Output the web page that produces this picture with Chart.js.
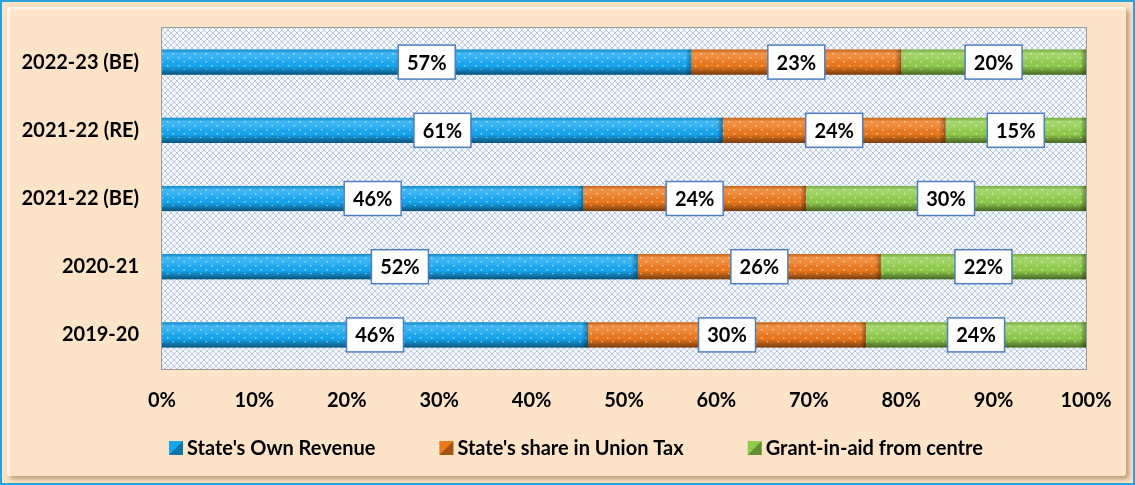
<!DOCTYPE html>
<html><head><meta charset="utf-8">
<script src="https://cdn.jsdelivr.net/npm/chart.js@4"></script>
<style>
html,body{margin:0;padding:0;width:1135px;height:485px;overflow:hidden;background:#fff}
#frame{position:absolute;left:0;top:0;width:1131px;height:481px;border:2px solid #2AA3DB;background:#FCE3C6;}
#inner{position:absolute;left:5px;top:5px;right:7px;bottom:7px;background:#FDE4C8;box-shadow:3px 3px 5px rgba(120,80,40,0.5), inset 2px 2px 3px rgba(255,255,255,0.85);border-radius:3px}
#c{position:absolute;left:0;top:0}
</style></head>
<body>
<div id="frame"><div id="inner"></div></div>
<canvas id="c" width="1135" height="485"></canvas>
<script>
const categories = ["2022-23 (BE)", "2021-22 (RE)", "2021-22 (BE)", "2020-21", "2019-20"];
const ownRevenue = [57.3, 60.7, 45.6, 51.5, 46.1];
const unionTaxShare = [22.7, 24.1, 24.1, 26.3, 30.1];
const grantInAid = [20.0, 15.2, 30.3, 22.2, 23.8];
const seriesNames = ["State's Own Revenue", "State's share in Union Tax", "Grant-in-aid from centre"];
const seriesColors = ['#16A6F0', '#EC781C', '#8FCC4C'];
const xTicks = [0,10,20,30,40,50,60,70,80,90,100];

const FONT = "Lato, 'Open Sans', sans-serif";

function makePattern(){
  const p = document.createElement('canvas'); p.width = 6; p.height = 6;
  const g = p.getContext('2d');
  g.fillStyle = '#F5F8FC'; g.fillRect(0,0,6,6);
  g.strokeStyle = '#B9C9E5'; g.lineWidth = 1;
  g.beginPath(); g.moveTo(0,0); g.lineTo(6,6); g.moveTo(6,0); g.lineTo(0,6); g.stroke();
  return p;
}
function makeDots(){
  const p = document.createElement('canvas'); p.width = 11; p.height = 8;
  const g = p.getContext('2d');
  g.fillStyle = 'rgba(255,255,255,0.55)';
  g.fillRect(2,1,1.5,1.5); g.fillRect(7.5,5,1.5,1.5);
  return p;
}

const bgPlugin = {
  id:'bg',
  beforeDatasetsDraw(chart){
    const {ctx, chartArea:a} = chart;
    ctx.save();
    ctx.fillStyle = ctx.createPattern(makePattern(),'repeat');
    ctx.fillRect(a.left,a.top,a.right-a.left,a.bottom-a.top);
    ctx.strokeStyle = '#9A9A9A'; ctx.lineWidth = 1;
    ctx.strokeRect(a.left-0.5,a.top-0.5,a.right-a.left+1,a.bottom-a.top+1);
    ctx.restore();
  }
};

const shadePlugin = {
  id:'shade',
  afterDatasetsDraw(chart){
    const ctx = chart.ctx;
    const dots = ctx.createPattern(makeDots(),'repeat');
    chart.data.datasets.forEach((ds,i)=>{
      const meta = chart.getDatasetMeta(i);
      meta.data.forEach(el=>{
        const l = Math.min(el.x, el.base), r = Math.max(el.x, el.base);
        const t = el.y - el.height/2, b = el.y + el.height/2;
        ctx.save();
        const gr = ctx.createLinearGradient(0,t,0,b);
        gr.addColorStop(0,'rgba(0,0,0,0.15)');
        gr.addColorStop(0.15,'rgba(255,255,255,0.2)');
        gr.addColorStop(0.4,'rgba(255,255,255,0.1)');
        gr.addColorStop(0.65,'rgba(0,0,0,0)');
        gr.addColorStop(1,'rgba(0,0,0,0.5)');
        ctx.fillStyle = gr; ctx.fillRect(l,t,r-l,b-t);
        ctx.fillStyle = dots; ctx.fillRect(l,t+3,r-l,b-t-8);
        const ge = ctx.createLinearGradient(r-6,0,r,0);
        ge.addColorStop(0,'rgba(0,0,0,0)'); ge.addColorStop(1,'rgba(0,0,0,0.35)');
        ctx.fillStyle = ge; ctx.fillRect(r-6,t,6,b-t);
        ctx.restore();
      });
    });
    chart.data.datasets.forEach((ds,i)=>{
      const meta = chart.getDatasetMeta(i);
      meta.data.forEach((el,j)=>{
        const cx = (el.x + el.base)/2, cy = el.y;
        const txt = Math.round(ds.data[j]) + '%';
        ctx.save();
        ctx.font = "bold 20px " + FONT;
        const w = 57, h = 34;
        ctx.fillStyle = '#FFFFFF';
        ctx.fillRect(cx-w/2, cy-h/2, w, h);
        ctx.strokeStyle = '#4F7EC0'; ctx.lineWidth = 1.5;
        ctx.strokeRect(cx-w/2, cy-h/2, w, h);
        ctx.fillStyle = '#000'; ctx.textAlign='center'; ctx.textBaseline='middle';
        ctx.fillText(txt, cx, cy+1);
        ctx.restore();
      });
    });
  }
};

const legendPlugin = {
  id:'customLegend',
  afterDraw(chart){
    const ctx = chart.ctx;
    ctx.save();
    ctx.font = "bold 20px " + FONT;
    ctx.textBaseline = 'middle';
    let x = 169; const y = 448, box = 14, gap = 64;
    chart.data.datasets.forEach(ds=>{
      ctx.fillStyle = ds.backgroundColor;
      ctx.fillRect(x, y-box/2, box, box);
      ctx.fillStyle = 'rgba(0,0,0,0.3)';
      ctx.beginPath(); ctx.moveTo(x+box,y-box/2); ctx.lineTo(x+box,y+box/2); ctx.lineTo(x,y+box/2); ctx.closePath(); ctx.fill();
      ctx.fillStyle = '#000';
      ctx.fillText(ds.label, x+box+4, y+1);
      x += box + 4 + ctx.measureText(ds.label).width + gap;
    });
    ctx.restore();
  }
};

new Chart(document.getElementById('c'), {
  type:'bar',
  data:{
    labels: categories,
    datasets:[
      {label:seriesNames[0], data:ownRevenue, backgroundColor:seriesColors[0]},
      {label:seriesNames[1], data:unionTaxShare, backgroundColor:seriesColors[1]},
      {label:seriesNames[2], data:grantInAid, backgroundColor:seriesColors[2]}
    ]
  },
  options:{
    indexAxis:'y',
    responsive:false,
    animation:false,
    categoryPercentage:1.0,
    barPercentage:0.37,
    layout:{padding:{top:28,right:49,bottom:65,left:0}},
    scales:{
      x:{stacked:true,min:0,max:100,
        afterBuildTicks(s){ s.ticks = xTicks.map(v=>({value:v})); },
        afterFit(s){ s.height = 51; },
        ticks:{callback:v=>v+'%',color:'#000',font:{family:FONT,size:20,weight:'bold'},padding:12,maxRotation:0},
        grid:{display:false},border:{display:false}},
      y:{stacked:true,
        afterFit(s){ s.width = 162; },
        ticks:{color:'#000',font:{family:FONT,size:20,weight:'bold'},padding:15},
        grid:{display:false},border:{display:false}}
    },
    plugins:{
      legend:{display:false},
      tooltip:{enabled:false}
    }
  },
  plugins:[bgPlugin, shadePlugin, legendPlugin]
});
</script>
</body></html>
